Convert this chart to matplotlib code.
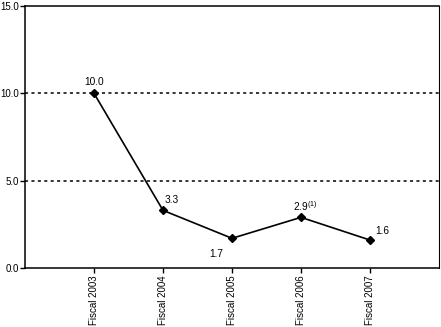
import matplotlib
matplotlib.use('Agg')
import matplotlib.pyplot as plt

plt.rcParams['font.family'] = ['Liberation Sans', 'DejaVu Sans']
plt.rcParams['mathtext.default'] = 'regular'

years = ['Fiscal 2003', 'Fiscal 2004', 'Fiscal 2005', 'Fiscal 2006', 'Fiscal 2007']
values = [10.0, 3.3, 1.7, 2.9, 1.6]
labels = ['10.0', '3.3', '1.7', '2.9$^{(1)}$', '1.6']
# label offsets in points (dx, dy)
offsets = [(0, 8), (6.5, 7.5), (-11, -11), (3, 8), (8.5, 6.5)]

fig = plt.figure(figsize=(4.41, 3.27), dpi=100)
ax = fig.add_axes([0.0567, 0.1804, 0.9388, 0.8013])

x = list(range(1, len(years) + 1))
ax.plot(x, values, color='black', lw=1.2, marker='D', ms=4.5, zorder=3)

for xi, v, lab, (dx, dy) in zip(x, values, labels, offsets):
    ax.annotate(lab, (xi, v), xytext=(dx, dy), textcoords='offset points',
                ha='center', va='center', fontsize=7.3)

for gy in [5, 10]:
    ax.axhline(gy, color='black', lw=1.1, ls=(0, (2, 2.2)), zorder=1)

ax.set_xlim(0, 6)
ax.set_ylim(0, 15)
ax.set_yticks([0, 5, 10, 15])
ax.set_yticklabels(['0.0', '5.0', '10.0', '15.0'], fontsize=7)
ax.set_xticks(x)
ax.set_xticklabels(years, rotation=90, fontsize=7)
ax.tick_params(axis='both', direction='out', length=3.5, width=1, pad=2)
ax.tick_params(axis='y', pad=0.6)

for s in ax.spines.values():
    s.set_linewidth(1.1)
ax.spines['right'].set_linewidth(0.8)

fig.savefig('out.png', dpi=100)
